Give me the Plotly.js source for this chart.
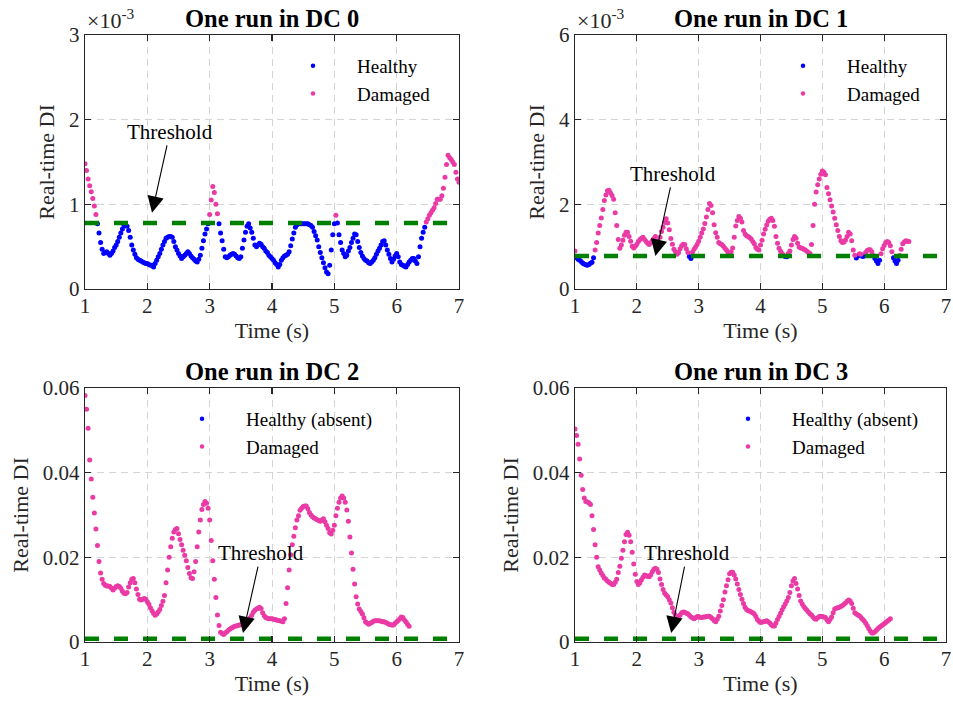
<!DOCTYPE html>
<html><head><meta charset="utf-8">
<script src="https://cdn.plot.ly/plotly-3.0.1.min.js"></script>
<style>html,body{margin:0;padding:0;background:#fff}#chart{width:953px;height:706px}</style>
</head><body><div id="chart"></div>
<script>
// ---------------- data ----------------
const t0 = 1, dt = 0.025;                // sampling: start time (s) and step (s)
const thresholdDI = 0.78e-3;             // damage threshold on real-time DI
const subplotTitles = ['One run in DC 0', 'One run in DC 1', 'One run in DC 2', 'One run in DC 3'];
const healthyNames = ['Healthy', 'Healthy', 'Healthy (absent)', 'Healthy (absent)'];
const damagedName = 'Damaged';
const xTicks = [1, 2, 3, 4, 5, 6, 7];
const yTicksTop0 = [0, 1, 2, 3];          // ×10^-3
const yTicksTop1 = [0, 2, 4, 6];          // ×10^-3
const yTicksBottom = [0, 0.02, 0.04, 0.06];

// DC 0, values in units of 10^-3 (t = 1.000 ... 7.000 s)
const dc0DI_e3 = [
  1.48,1.40,1.30,1.22,1.15,1.07,0.98,0.88,0.77,0.66,
  0.55,0.47,0.42,0.43,0.44,0.42,0.40,0.42,0.45,0.49,
  0.52,0.56,0.61,0.66,0.71,0.75,0.77,0.74,0.69,0.61,
  0.52,0.46,0.41,0.37,0.35,0.34,0.33,0.32,0.31,0.30,
  0.30,0.29,0.28,0.28,0.26,0.30,0.34,0.38,0.42,0.47,
  0.52,0.56,0.60,0.61,0.62,0.62,0.61,0.56,0.50,0.46,
  0.42,0.39,0.36,0.38,0.40,0.42,0.44,0.42,0.39,0.37,
  0.35,0.33,0.32,0.35,0.40,0.48,0.57,0.65,0.71,0.77,
  0.88,1.05,1.21,1.14,1.00,0.89,0.77,0.66,0.57,0.47,
  0.38,0.37,0.38,0.40,0.41,0.42,0.41,0.39,0.37,0.36,
  0.38,0.48,0.58,0.67,0.74,0.77,0.72,0.67,0.60,0.52,
  0.50,0.52,0.54,0.53,0.50,0.48,0.45,0.43,0.40,0.38,
  0.36,0.34,0.31,0.29,0.26,0.29,0.34,0.37,0.39,0.40,
  0.41,0.44,0.51,0.59,0.66,0.73,0.76,0.77,0.77,0.77,
  0.77,0.77,0.77,0.77,0.76,0.75,0.73,0.68,0.63,0.58,
  0.50,0.43,0.37,0.31,0.25,0.20,0.18,0.28,0.46,0.64,
  0.77,0.87,0.78,0.64,0.55,0.46,0.42,0.38,0.40,0.45,
  0.49,0.55,0.60,0.65,0.64,0.56,0.49,0.43,0.39,0.36,
  0.34,0.33,0.31,0.30,0.32,0.34,0.37,0.41,0.45,0.48,
  0.52,0.56,0.57,0.52,0.46,0.41,0.36,0.32,0.35,0.39,
  0.42,0.38,0.32,0.29,0.28,0.27,0.26,0.29,0.32,0.34,
  0.36,0.36,0.33,0.30,0.38,0.50,0.60,0.67,0.73,0.79,
  0.83,0.87,0.90,0.93,0.96,1.01,1.06,1.06,1.06,1.10,
  1.19,1.32,1.47,1.58,1.55,1.53,1.50,1.47,1.38,1.30,
  1.26];
// DC 1, values in units of 10^-3 (t = 1.000 ... 6.400 s)
const dc1DI_e3 = [
  0.90,0.74,0.70,0.68,0.65,0.61,0.59,0.57,0.56,0.58,
  0.61,0.63,0.74,0.92,1.10,1.32,1.50,1.68,1.88,2.09,
  2.22,2.32,2.33,2.27,2.21,2.12,1.80,1.50,1.17,0.96,
  1.04,1.15,1.27,1.34,1.34,1.24,1.13,1.01,0.97,1.01,
  1.06,1.12,1.17,1.20,1.22,1.17,1.12,1.08,1.05,1.09,
  1.14,1.19,1.24,1.14,1.10,1.22,1.36,1.46,1.57,1.66,
  1.56,1.40,1.19,1.06,0.94,0.88,0.82,0.86,0.95,1.02,
  1.06,1.05,0.95,0.86,0.77,0.72,0.87,0.94,0.99,1.05,
  1.13,1.22,1.32,1.42,1.55,1.70,1.88,2.02,1.97,1.80,
  1.52,1.33,1.22,1.10,1.07,1.05,1.01,0.96,0.92,0.87,
  0.84,0.88,0.97,1.22,1.49,1.62,1.71,1.67,1.58,1.38,
  1.30,1.26,1.24,1.21,1.18,1.12,1.07,0.98,0.94,0.92,
  1.04,1.15,1.30,1.41,1.51,1.60,1.65,1.67,1.62,1.48,
  1.24,1.08,0.96,0.89,0.84,0.79,0.77,0.76,0.84,0.90,
  1.04,1.17,1.24,1.20,1.08,0.99,0.97,0.96,0.94,0.92,
  0.89,0.86,0.84,1.05,1.50,2.00,2.29,2.46,2.60,2.71,
  2.79,2.76,2.70,2.40,2.25,2.11,1.96,1.82,1.67,1.52,
  1.38,1.24,1.14,1.10,1.11,1.16,1.24,1.34,1.30,1.14,
  0.92,0.80,0.73,0.78,0.83,0.82,0.77,0.78,0.86,0.91,
  0.93,0.93,0.88,0.79,0.72,0.66,0.60,0.68,0.83,0.95,
  1.03,1.10,1.12,1.10,1.02,0.88,0.74,0.66,0.60,0.68,
  0.79,0.94,1.07,1.11,1.14,1.13,1.12];
// DC 2, real values (t = 1.000 ... 6.200 s)
const dc2DI = [
  0.0582,0.0550,0.0505,0.0430,0.0385,0.0342,0.0305,0.0267,0.0228,0.0190,
  0.0163,0.0148,0.0138,0.0134,0.0132,0.0132,0.0131,0.0127,0.0123,0.0127,
  0.0131,0.0133,0.0131,0.0127,0.0120,0.0115,0.0114,0.0117,0.0130,0.0140,
  0.0148,0.0150,0.0140,0.0125,0.0112,0.0101,0.0099,0.0101,0.0103,0.0101,
  0.0095,0.0089,0.0081,0.0074,0.0068,0.0063,0.0066,0.0071,0.0077,0.0086,
  0.0096,0.0110,0.0140,0.0170,0.0200,0.0225,0.0245,0.0260,0.0266,0.0268,
  0.0256,0.0242,0.0230,0.0217,0.0205,0.0192,0.0176,0.0162,0.0152,0.0150,
  0.0166,0.0190,0.0225,0.0260,0.0288,0.0313,0.0325,0.0332,0.0328,0.0316,
  0.0288,0.0240,0.0192,0.0148,0.0105,0.0064,0.0039,0.0023,0.0020,0.0018,
  0.0021,0.0024,0.0028,0.0031,0.0033,0.0035,0.0037,0.0038,0.0039,0.0040,
  0.0041,0.0041,0.0042,0.0045,0.0048,0.0051,0.0057,0.0063,0.0070,0.0075,
  0.0078,0.0080,0.0082,0.0079,0.0069,0.0062,0.0058,0.0056,0.0055,0.0055,
  0.0055,0.0054,0.0053,0.0052,0.0051,0.0050,0.0049,0.0048,0.0055,0.0091,
  0.0128,0.0170,0.0206,0.0230,0.0250,0.0270,0.0288,0.0298,0.0311,0.0316,
  0.0320,0.0321,0.0321,0.0315,0.0306,0.0300,0.0296,0.0293,0.0291,0.0289,
  0.0287,0.0285,0.0288,0.0291,0.0284,0.0276,0.0268,0.0258,0.0255,0.0264,
  0.0276,0.0298,0.0316,0.0330,0.0340,0.0345,0.0340,0.0330,0.0312,0.0285,
  0.0248,0.0210,0.0172,0.0137,0.0107,0.0090,0.0078,0.0072,0.0066,0.0057,
  0.0048,0.0045,0.0042,0.0044,0.0046,0.0049,0.0050,0.0050,0.0050,0.0050,
  0.0049,0.0048,0.0048,0.0046,0.0044,0.0042,0.0041,0.0040,0.0040,0.0044,
  0.0048,0.0051,0.0055,0.0059,0.0058,0.0052,0.0047,0.0042,0.0037];
// DC 3, real values (t = 1.000 ... 6.100 s)
const dc3DI = [
  0.0503,0.0488,0.0467,0.0432,0.0394,0.0360,0.0340,0.0332,0.0331,0.0329,
  0.0325,0.0298,0.0266,0.0230,0.0200,0.0178,0.0170,0.0163,0.0157,0.0151,
  0.0148,0.0144,0.0141,0.0139,0.0136,0.0136,0.0141,0.0148,0.0164,0.0179,
  0.0198,0.0217,0.0237,0.0254,0.0259,0.0252,0.0237,0.0212,0.0184,0.0160,
  0.0143,0.0136,0.0140,0.0147,0.0153,0.0158,0.0157,0.0155,0.0154,0.0159,
  0.0166,0.0172,0.0174,0.0172,0.0164,0.0149,0.0136,0.0124,0.0115,0.0111,
  0.0107,0.0100,0.0092,0.0081,0.0070,0.0063,0.0057,0.0059,0.0064,0.0069,
  0.0071,0.0070,0.0068,0.0067,0.0063,0.0059,0.0057,0.0055,0.0057,0.0060,
  0.0060,0.0058,0.0058,0.0059,0.0059,0.0060,0.0061,0.0061,0.0058,0.0055,
  0.0051,0.0048,0.0054,0.0061,0.0073,0.0086,0.0100,0.0118,0.0133,0.0147,
  0.0161,0.0165,0.0165,0.0158,0.0149,0.0137,0.0124,0.0112,0.0101,0.0091,
  0.0082,0.0077,0.0074,0.0073,0.0071,0.0069,0.0066,0.0060,0.0053,0.0049,
  0.0046,0.0047,0.0048,0.0049,0.0050,0.0048,0.0045,0.0041,0.0038,0.0038,
  0.0045,0.0053,0.0060,0.0068,0.0076,0.0083,0.0090,0.0097,0.0105,0.0117,
  0.0133,0.0144,0.0150,0.0138,0.0125,0.0110,0.0097,0.0090,0.0084,0.0079,
  0.0075,0.0071,0.0067,0.0064,0.0059,0.0055,0.0054,0.0057,0.0060,0.0061,
  0.0060,0.0059,0.0058,0.0052,0.0048,0.0053,0.0059,0.0069,0.0078,0.0080,
  0.0081,0.0082,0.0084,0.0086,0.0089,0.0092,0.0096,0.0099,0.0097,0.0091,
  0.0080,0.0069,0.0066,0.0064,0.0062,0.0058,0.0054,0.0050,0.0045,0.0039,
  0.0032,0.0026,0.0021,0.0021,0.0024,0.0028,0.0032,0.0035,0.0038,0.0040,
  0.0043,0.0046,0.0049,0.0052,0.0055];

// ---------------- styling ----------------
const FONT = 'Liberation Serif, Times New Roman, serif';
const INK = '#262626';
const BLUE = '#0000FF', PINK = '#EA3AA5', GREEN = '#008000';
const W = 953, H = 706;
const M = {l: 85, r: 0, t: 35, b: 64};
const PW = W - M.l - M.r, PH = H - M.t - M.b;
const px2x = p => (p - M.l) / PW;
const py2y = p => (H - M.b - p) / PH;

const colDom = [[px2x(85), px2x(459)], [px2x(575), px2x(946)]];
const rowDom = [[py2y(289), py2y(35)], [py2y(642), py2y(388)]];

const panels = [
  {di: dc0DI_e3, thr: thresholdDI * 1e3, col: 0, row: 0, yr: [0, 3], yt: yTicksTop0},
  {di: dc1DI_e3, thr: thresholdDI * 1e3, col: 1, row: 0, yr: [0, 6], yt: yTicksTop1},
  {di: dc2DI, thr: thresholdDI, col: 0, row: 1, yr: [0, 0.06], yt: yTicksBottom},
  {di: dc3DI, thr: thresholdDI, col: 1, row: 1, yr: [0, 0.06], yt: yTicksBottom},
];
// arrow tip (data coords) and text offsets (px) for the "Threshold" labels
const arrowSpecs = [
  {x: 2.075, y: 0.90, ax: 18, ay: -81},
  {x: 2.30, y: 0.78, ax: 18, ay: -82},
  {x: 3.535, y: 0.0021, ax: 18, ay: -80},
  {x: 2.556, y: 0.0021, ax: 16, ay: -80},
];
const legendPos = [[269, 47], [759, 47], [158, 400], [704, 400]];

const traces = [];
const layout = {
  width: W, height: H, margin: M, paper_bgcolor: '#fff', plot_bgcolor: '#fff',
  font: {family: FONT, color: INK}, showlegend: true, annotations: []
};

panels.forEach((p, i) => {
  const n = i === 0 ? '' : String(i + 1);
  const xa = 'x' + n, ya = 'y' + n;
  const lg = 'legend' + n;
  const time = p.di.map((_, k) => +(t0 + k * dt).toFixed(3));
  const hx = [], hy = [], dx = [], dy = [];
  p.di.forEach((v, k) => { if (v > p.thr) { dx.push(time[k]); dy.push(v); } else { hx.push(time[k]); hy.push(v); } });
  // data markers
  traces.push({type: 'scatter', mode: 'markers', x: hx, y: hy, name: healthyNames[i],
    xaxis: xa, yaxis: ya, showlegend: false, marker: {color: BLUE, size: 5}});
  traces.push({type: 'scatter', mode: 'markers', x: dx, y: dy, name: damagedName,
    xaxis: xa, yaxis: ya, showlegend: false, marker: {color: PINK, size: 5}});
  // legend entries
  traces.push({type: 'scatter', mode: 'markers', x: [null], y: [null], name: healthyNames[i],
    xaxis: xa, yaxis: ya, legend: lg, marker: {color: BLUE, size: 4.5}});
  traces.push({type: 'scatter', mode: 'markers', x: [null], y: [null], name: damagedName,
    xaxis: xa, yaxis: ya, legend: lg, marker: {color: PINK, size: 4.5}});
  // threshold
  traces.push({type: 'scatter', mode: 'lines', x: [xTicks[0], xTicks[xTicks.length - 1]], y: [p.thr, p.thr],
    xaxis: xa, yaxis: ya, showlegend: false, line: {color: GREEN, width: 4.5, dash: '14px,15px'}});

  const common = {
    showline: true, linecolor: INK, linewidth: 1.3, mirror: 'allticks',
    ticks: 'inside', ticklen: 6, tickwidth: 1.3, tickcolor: INK,
    showgrid: true, gridcolor: '#d4d4d4', griddash: '7px,5px', gridwidth: 1,
    zeroline: false, automargin: false, ticklabeloverflow: 'allow',
    tickfont: {family: FONT, size: 21, color: INK}
  };
  layout['xaxis' + n] = Object.assign({}, common, {
    domain: colDom[p.col], anchor: ya, range: [1, 7], tickvals: xTicks, ticklabelstandoff: -3,
    title: {text: 'Time (s)', font: {family: FONT, size: 22, color: INK}, standoff: 0}
  });
  layout['yaxis' + n] = Object.assign({}, common, {
    domain: rowDom[p.row], anchor: xa, range: p.yr, tickvals: p.yt,
    ticktext: p.yt.map(v => String(v)),
    title: {text: 'Real-time DI', font: {family: FONT, size: 22, color: INK}, standoff: 8}
  });
  layout[lg] = {
    x: px2x(legendPos[i][0]), y: py2y(legendPos[i][1]), xanchor: 'left', yanchor: 'top',
    bgcolor: 'rgba(0,0,0,0)', borderwidth: 0, itemwidth: 78,
    font: {family: FONT, size: 19, color: '#000'}
  };
  // subplot title
  layout.annotations.push({
    xref: 'paper', yref: 'paper', x: (colDom[p.col][0] + colDom[p.col][1]) / 2,
    y: py2y(p.row === 0 ? 18 : 371), xanchor: 'center', yanchor: 'middle', showarrow: false,
    text: '<b>' + subplotTitles[i] + '</b>', font: {family: FONT, size: 24.5, color: '#000'}
  });
  if (p.row === 0) {
    layout.annotations.push({
      xref: 'paper', yref: 'paper', x: colDom[p.col][0], y: py2y(35), xanchor: 'left', yanchor: 'bottom',
      showarrow: false, text: '×10<sup>-3</sup>', font: {family: FONT, size: 22, color: INK}
    });
  }
  const a = arrowSpecs[i];
  layout.annotations.push({
    xref: xa, yref: ya, x: a.x, y: a.y, ax: a.ax, ay: a.ay, text: 'Threshold',
    showarrow: true, arrowhead: 2, arrowsize: 3, arrowwidth: 1.1, arrowcolor: '#000', standoff: 0,
    font: {family: FONT, size: 21, color: '#000'}
  });
});

Plotly.newPlot('chart', traces, layout, {displayModeBar: false, staticPlot: true});
</script>
</body></html>
